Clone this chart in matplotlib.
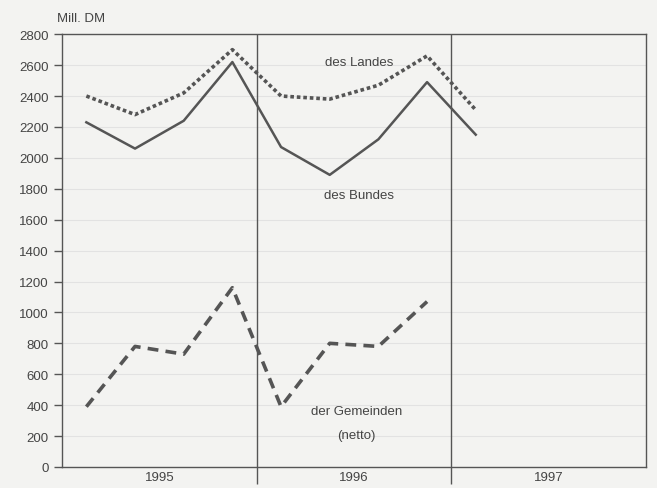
import numpy as np
import matplotlib.pyplot as plt

plt.rcParams['font.family'] = ['Liberation Sans', 'DejaVu Sans']

# quarters 1995 Q1 .. 1997 Q1
quarters = np.arange(9) + 0.5
bundes = [2230, 2060, 2240, 2620, 2070, 1890, 2120, 2490, 2150]
landes = [2400, 2280, 2420, 2700, 2400, 2380, 2470, 2660, 2310]
gemeinden = [390, 780, 730, 1160, 390, 800, 780, 1070]
years = ['1995', '1996', '1997']

line_col = '#555555'
fig = plt.figure(figsize=(6.57, 4.89), dpi=100)
fig.patch.set_facecolor('#f3f3f1')
ax = fig.add_axes([0.0944, 0.043, 0.889, 0.885])
ax.set_facecolor('#f3f3f1')

ax.plot(quarters, landes, color=line_col, lw=2.6, ls=(0, (1, 0.8)))
ax.plot(quarters, bundes, color=line_col, lw=1.8)
ax.plot(quarters[:8], gemeinden, color=line_col, lw=2.6, ls=(0, (3, 2)))

ax.set_xlim(0, 12)
ax.set_ylim(0, 2800)
ax.set_yticks(np.arange(0, 2801, 200))
ax.yaxis.grid(True, color='#e2e2e2', lw=0.8)
ax.set_axisbelow(True)
for xv in [4, 8]:
    ax.axvline(xv, color='#555555', lw=1.0)

ax.set_xticks([2, 6, 10])
ax.set_xticklabels(years)
ax.set_xticks([4, 8], minor=True)
ax.tick_params(axis='x', which='major', length=0, pad=3, labelsize=9.5, colors='#444444')
ax.tick_params(axis='x', which='minor', length=12, width=1.0, color='#555555')
ax.tick_params(axis='y', length=6, width=1.0, color='#555555', labelsize=9.5, labelcolor='#444444')
for s in ax.spines.values():
    s.set_color('#555555')
    s.set_linewidth(1.0)

ax.text(-0.1, 2905, 'Mill. DM', fontsize=9.5, color='#444444', ha='left', va='center')
ax.text(6.1, 2620, 'des Landes', fontsize=9.5, color='#444444', ha='center', va='center')
ax.text(6.1, 1760, 'des Bundes', fontsize=9.5, color='#444444', ha='center', va='center')
ax.text(6.05, 360, 'der Gemeinden', fontsize=9.5, color='#444444', ha='center', va='center')
ax.text(6.05, 210, '(netto)', fontsize=9.5, color='#444444', ha='center', va='center')

fig.savefig('out.png', dpi=100, facecolor=fig.get_facecolor())
